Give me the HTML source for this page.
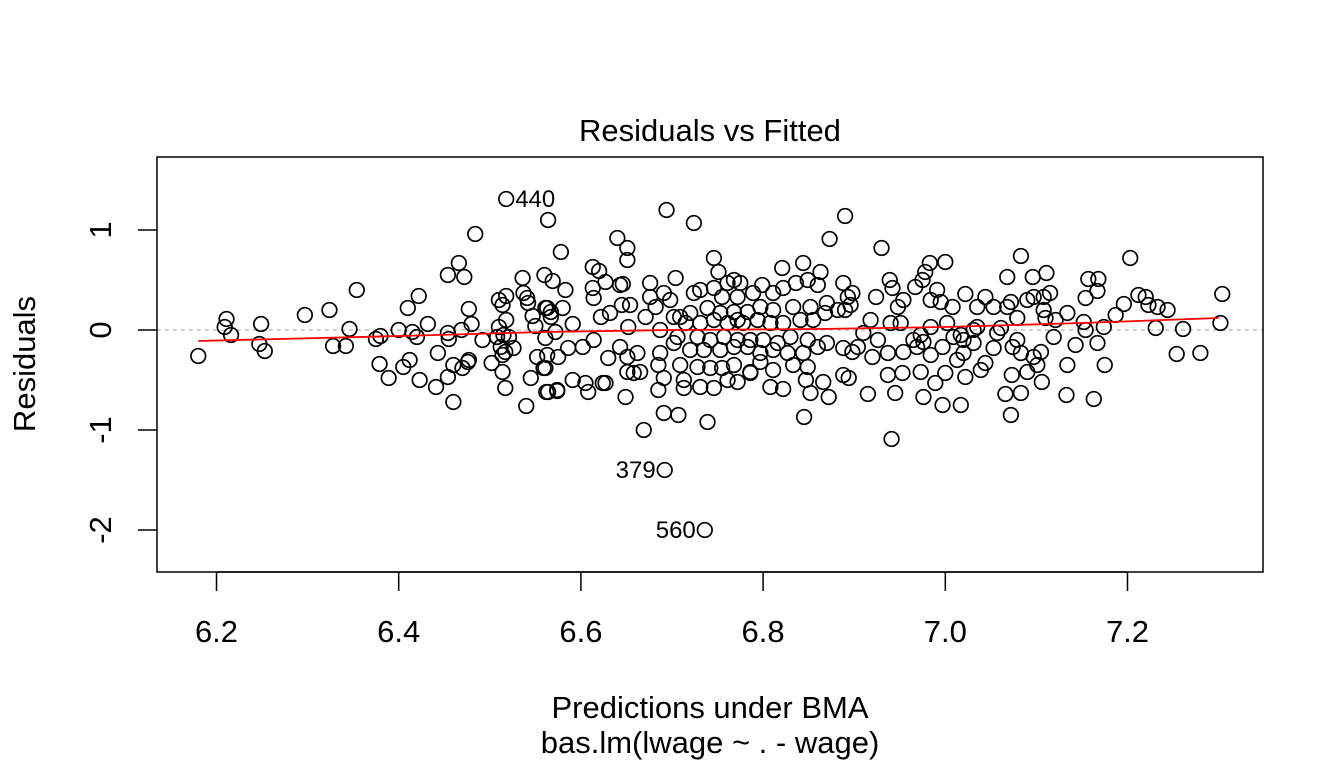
<!DOCTYPE html>
<html><head><meta charset="utf-8"><style>
html,body{margin:0;padding:0;background:#fff;}
svg{display:block;font-family:"Liberation Sans",Arial,sans-serif;}
</style></head><body>
<svg id="chart" width="1344" height="768" viewBox="0 0 1344 768" xmlns="http://www.w3.org/2000/svg">
<rect width="1344" height="768" fill="#fff"/>
<text x="710" y="141" font-size="31" text-anchor="middle">Residuals vs Fitted</text>
<text x="710" y="718" font-size="31" text-anchor="middle">Predictions under BMA</text>
<text x="710" y="753" font-size="31" text-anchor="middle">bas.lm(lwage ~ . - wage)</text>
<text x="0" y="0" font-size="31" text-anchor="middle" transform="translate(35,364) rotate(-90)">Residuals</text>
<g id="grid"></g>
<g id="marks"></g>
<rect x="157" y="157" width="1106" height="415" fill="none" stroke="#000" stroke-width="1.5"/>
<g id="axes"></g>
</svg>
<script>
const fitted = [6.180,6.211,6.209,6.216,6.249,6.247,6.253,6.297,6.324,6.354,6.346,6.328,6.342,6.375,6.380,6.379,6.389,6.400,6.410,6.422,6.405,6.412,6.415,6.420,6.432,6.423,6.443,6.441,6.454,6.466,6.472,6.454,6.455,6.469,6.477,6.480,6.454,6.460,6.460,6.470,6.476,6.477,6.484,6.492,6.502,6.508,6.510,6.518,6.514,6.518,6.510,6.515,6.521,6.512,6.517,6.514,6.526,6.514,6.517,6.540,6.518,6.536,6.537,6.541,6.542,6.547,6.550,6.561,6.552,6.563,6.559,6.545,6.564,6.560,6.569,6.561,6.567,6.578,6.564,6.574,
6.694,6.724,6.640,6.651,6.651,6.746,6.751,6.821,6.844,6.704,6.613,6.620,6.613,6.614,6.627,6.643,6.646,6.676,6.583,6.580,6.563,6.567,6.591,6.572,6.586,6.575,6.561,6.562,6.574,6.591,6.605,6.608,6.624,6.627,6.649,6.630,6.614,6.602,6.622,6.632,6.645,6.654,6.652,6.643,6.651,6.662,6.651,6.665,6.658,6.671,6.676,6.682,6.687,6.691,6.698,6.702,6.709,6.715,6.706,6.702,6.687,6.685,6.709,6.691,6.685,6.713,6.713,6.691,6.707,6.669,6.739,6.724,6.731,6.746,6.761,6.768,6.775,6.755,6.772,6.789,6.799,6.811,6.822,6.836,6.849,6.860,6.739,6.753,6.768,6.783,6.797,6.811,6.833,6.852,6.731,6.746,6.761,6.778,6.794,6.808,6.822,6.841,6.855,6.728,6.742,6.757,6.772,6.786,6.800,6.816,6.830,6.849,6.720,6.735,6.753,6.768,6.783,6.797,6.811,6.827,6.844,6.860,6.728,6.742,6.755,6.768,6.786,6.797,6.811,6.833,6.849,6.731,6.746,6.761,6.772,6.786,6.808,6.822,6.847,6.852,6.845,6.772,6.720,6.692,6.736,
6.890,6.873,6.930,6.863,6.888,6.898,6.893,6.896,6.890,6.870,6.924,6.939,6.942,6.954,6.948,6.983,7.000,6.978,6.975,6.967,6.991,6.984,6.995,7.008,7.022,7.035,7.044,7.053,7.083,7.068,7.096,7.111,7.097,7.108,7.115,7.072,7.079,7.108,7.110,7.134,7.121,7.157,7.168,7.167,7.154,7.196,7.187,7.203,7.212,7.220,7.223,7.233,7.244,7.304,7.302,7.231,7.261,7.154,7.174,7.152,7.119,7.143,7.167,7.254,7.280,7.175,7.134,7.106,7.133,7.163,7.072,7.066,7.083,7.073,7.090,7.101,7.097,7.105,7.083,7.074,7.079,7.057,7.053,7.044,7.039,7.022,7.017,6.997,6.989,7.000,7.013,7.020,7.031,7.009,6.997,6.984,6.973,6.976,6.953,6.945,6.937,6.915,6.941,6.872,6.894,6.888,6.866,6.898,6.888,6.870,6.920,6.937,6.954,6.969,6.926,6.910,6.951,6.965,6.984,7.002,7.020,6.940,6.918,6.882,6.868,6.904,7.017,7.035,7.068,7.090,7.061,7.031,6.973,6.976];
const resid = [-0.26,0.11,0.03,-0.05,0.06,-0.14,-0.21,0.15,0.20,0.40,0.01,-0.16,-0.16,-0.09,-0.06,-0.34,-0.48,0.00,0.22,0.34,-0.37,-0.30,-0.02,-0.07,0.06,-0.50,-0.23,-0.57,0.55,0.67,0.53,-0.03,-0.09,0.00,0.21,0.06,-0.47,-0.72,-0.35,-0.38,-0.32,-0.30,0.96,-0.10,-0.33,-0.07,0.30,0.34,0.25,0.10,0.03,-0.05,-0.07,-0.17,-0.22,-0.25,-0.18,-0.42,-0.58,-0.76,1.31,0.52,0.37,0.32,0.27,0.14,0.04,-0.08,-0.27,-0.25,-0.38,-0.48,1.10,0.55,0.49,0.22,0.18,0.78,-0.62,-0.60,
1.20,1.07,0.92,0.82,0.70,0.72,0.58,0.62,0.67,0.52,0.63,0.59,0.42,0.32,0.48,0.45,0.46,0.47,0.40,0.22,0.22,0.13,0.06,-0.02,-0.18,-0.27,-0.38,-0.62,-0.61,-0.50,-0.53,-0.62,-0.53,-0.53,-0.67,-0.28,-0.10,-0.17,0.13,0.17,0.25,0.25,0.03,-0.17,-0.27,-0.23,-0.42,-0.42,-0.43,0.13,0.33,0.23,0.00,0.37,0.30,0.13,0.13,0.07,-0.07,-0.13,-0.23,-0.35,-0.35,-0.48,-0.60,-0.50,-0.58,-0.83,-0.85,-1.00,-0.92,0.37,0.40,0.42,0.47,0.50,0.47,0.33,0.33,0.37,0.45,0.37,0.42,0.47,0.50,0.45,0.22,0.17,0.18,0.18,0.23,0.20,0.23,0.23,0.07,0.10,0.07,0.07,0.10,0.07,0.07,0.10,0.10,-0.07,-0.10,-0.07,-0.10,-0.10,-0.10,-0.13,-0.07,-0.10,-0.20,-0.20,-0.20,-0.17,-0.17,-0.23,-0.20,-0.23,-0.23,-0.17,-0.37,-0.38,-0.38,-0.35,-0.42,-0.32,-0.40,-0.35,-0.37,-0.57,-0.58,-0.50,-0.52,-0.43,-0.57,-0.59,-0.50,-0.63,-0.87,0.10,0.17,-1.40,-2.00,
1.14,0.91,0.82,0.58,0.47,0.37,0.33,0.25,0.20,0.27,0.33,0.50,0.42,0.30,0.23,0.67,0.68,0.58,0.50,0.43,0.40,0.30,0.28,0.23,0.36,0.23,0.33,0.23,0.74,0.53,0.53,0.57,0.33,0.33,0.37,0.28,0.12,0.20,0.12,0.17,0.10,0.51,0.51,0.39,0.32,0.26,0.15,0.72,0.35,0.33,0.25,0.23,0.20,0.36,0.07,0.02,0.01,0.00,0.03,0.08,-0.07,-0.15,-0.13,-0.24,-0.23,-0.35,-0.35,-0.52,-0.65,-0.69,-0.85,-0.64,-0.63,-0.45,-0.42,-0.35,-0.27,-0.22,-0.23,-0.17,-0.10,-0.03,-0.18,-0.33,-0.40,-0.47,-0.75,-0.75,-0.53,-0.43,-0.30,-0.23,-0.13,-0.07,-0.17,-0.25,-0.42,-0.67,-0.43,-0.63,-0.45,-0.64,-1.09,-0.67,-0.48,-0.45,-0.52,-0.22,-0.18,-0.13,-0.27,-0.23,-0.22,-0.17,-0.10,-0.03,0.07,-0.10,0.03,0.07,-0.10,0.07,0.10,0.20,0.17,-0.17,-0.05,0.03,0.23,0.30,0.02,0.00,-0.05,-0.12,0.17,0.30];
const lowessX = [6.18,6.40,6.56,6.70,6.86,7.00,7.15,7.30];
const lowessY = [-0.11,-0.06,-0.02,0.00,0.01,0.03,0.07,0.12];
const xTicks = [6.2,6.4,6.6,6.8,7.0,7.2];
const xTickLabels = ["6.2","6.4","6.6","6.8","7.0","7.2"];
const yTicks = [1,0,-1,-2];
const yTickLabels = ["1","0","-1","-2"];
const idLabels = ["440","379","560"];
const idX = [6.518,6.692,6.736];
const idY = [1.31,-1.40,-2.00];

const NS = "http://www.w3.org/2000/svg";
function xs(v){return 216.5 + (v-6.2)*911;}
function ys(v){return 330 - v*100;}
function mk(tag, attrs, parent){const e=document.createElementNS(NS,tag);for(const k in attrs)e.setAttribute(k,attrs[k]);parent.appendChild(e);return e;}
const grid=document.getElementById('grid'), marks=document.getElementById('marks'), axes=document.getElementById('axes');

const zl = mk('line',{x1:157,x2:1263,y1:ys(0),y2:ys(0),stroke:'#bdbdbd','stroke-width':1.5,'stroke-dasharray':'4 4'},grid);



for(let i=0;i<fitted.length;i++){
  const c=mk('circle',{cx:xs(fitted[i]),cy:ys(resid[i]),r:7.3,fill:'none',stroke:'#000','stroke-width':1.7},marks);
  
  
}
let d='';
for(let i=0;i<lowessX.length;i++) d+=(i?'L':'M')+xs(lowessX[i])+' '+ys(lowessY[i]);
const lw=mk('path',{d:d,fill:'none',stroke:'#ff0000','stroke-width':1.8},marks);



for(let i=0;i<idLabels.length;i++){
  const right = i===0;
  const t=mk('text',{x:right?xs(idX[i])+9:xs(idX[i])-9,y:ys(idY[i])+8,'font-size':24,'text-anchor':right?'start':'end'},marks);
  t.textContent=idLabels[i];
  
  
}

for(let i=0;i<xTicks.length;i++){
  const x=xs(xTicks[i]);
  const tk=mk('line',{x1:x,x2:x,y1:572,y2:591,stroke:'#000','stroke-width':1.5},axes);
  
  
  const t=mk('text',{x:x,y:642,'font-size':31,'text-anchor':'middle'},axes);
  t.textContent=xTickLabels[i];
  
  
}
for(let i=0;i<yTicks.length;i++){
  const y=ys(yTicks[i]);
  const tk=mk('line',{x1:138,x2:157,y1:y,y2:y,stroke:'#000','stroke-width':1.5},axes);
  
  
  const t=mk('text',{x:0,y:0,'font-size':31,'text-anchor':'middle',transform:'translate(111,'+y+') rotate(-90)'},axes);
  t.textContent=yTickLabels[i];
  
  
}
const xl=mk('line',{x1:xs(6.2),x2:xs(7.2),y1:572,y2:572,stroke:'#000','stroke-width':1.5},axes);


</script>
</body></html>
